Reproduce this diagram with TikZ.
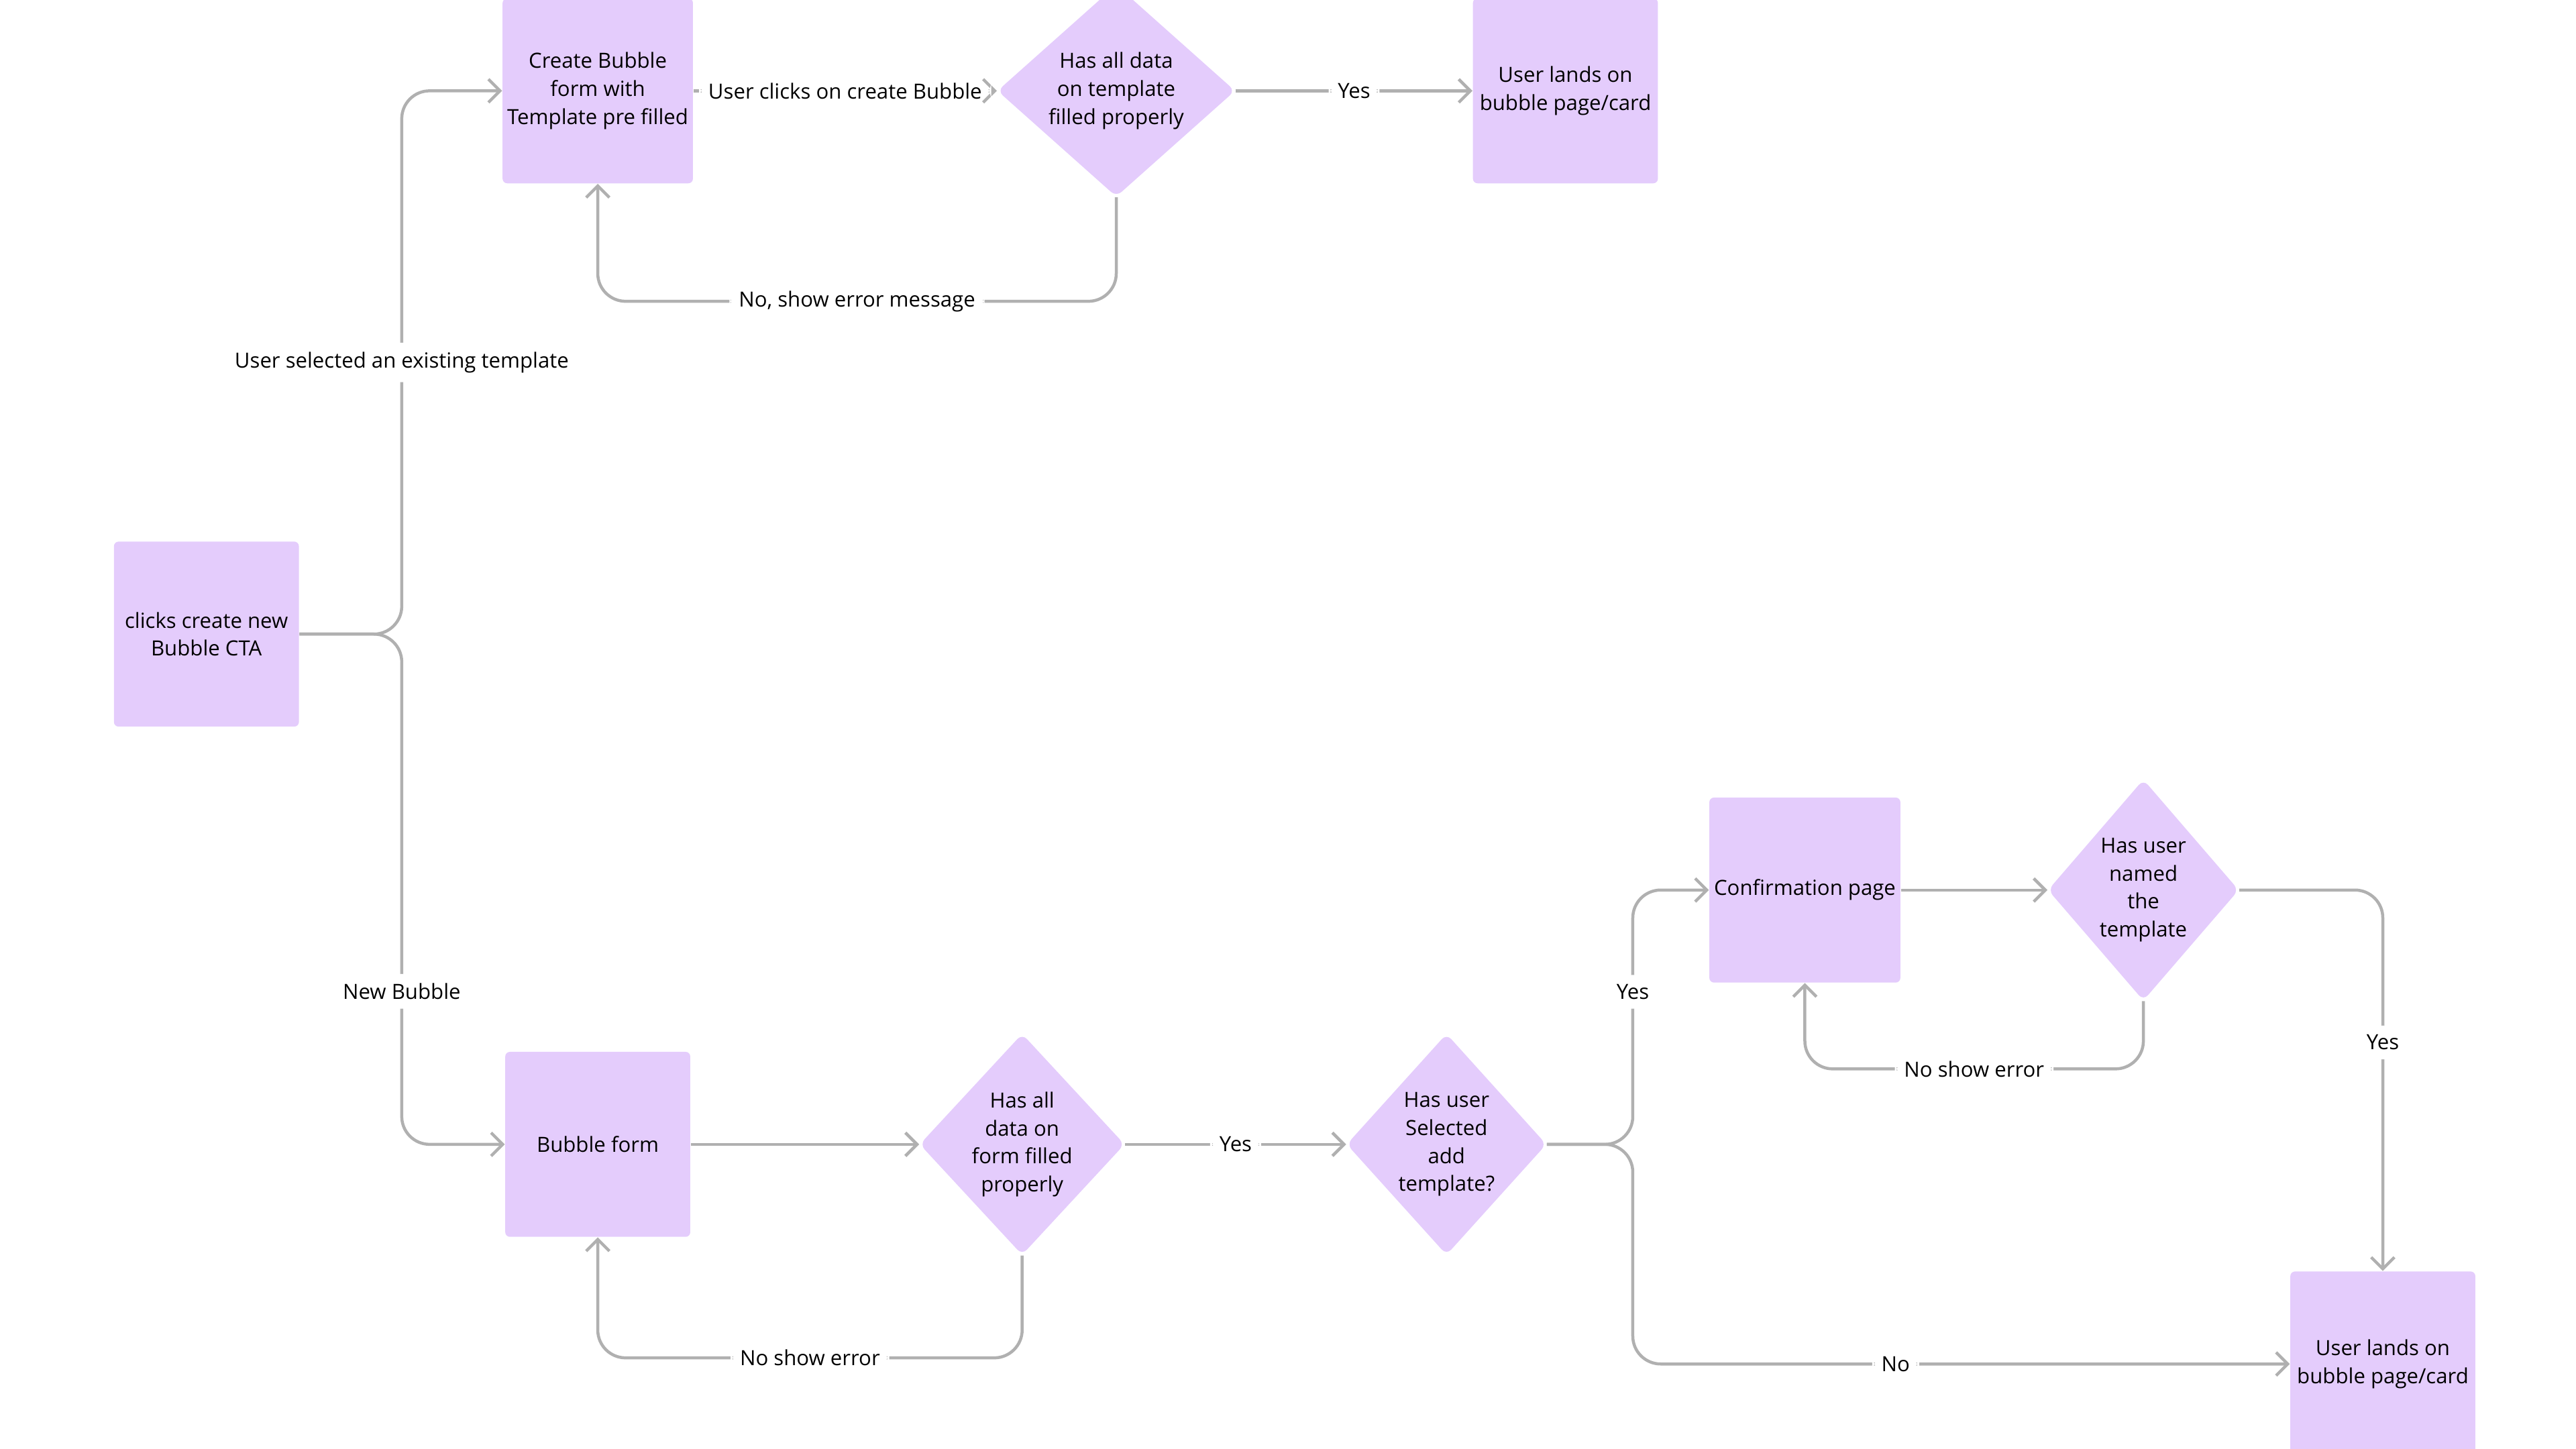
\documentclass[tikz,border=0pt]{standalone}
\usepackage{fontspec}
\setmainfont{Open Sans}
\usetikzlibrary{shapes.geometric,arrows.meta}
\definecolor{boxfill}{HTML}{E4CCFC}
\definecolor{linegray}{HTML}{B0B0B0}
\tikzset{
    % Box and decision styles
    stage/.style={draw=none, fill=boxfill, rounded corners=2pt, minimum width=2.8cm, minimum height=2.8cm,
        align=center, font=\fontsize{9}{12}\selectfont, inner sep=2pt},
    decide/.style={diamond, draw=none, fill=boxfill, rounded corners=3pt, inner sep=0pt,
        align=center, font=\fontsize{9}{12}\selectfont},
    % Connector styles
    flow/.style={draw=linegray, line width=1.3pt, rounded corners=12pt, -{Straight Barb[length=5pt,width=10pt]}},
    flow label/.style={fill=white, font=\fontsize{9}{12}\selectfont, inner sep=4pt},
}
\begin{document}
\begin{tikzpicture}[x=0.025cm, y=-0.025cm]
    \useasboundingbox (0,0) rectangle (1560,877.5);

    % Top branch
    \node[stage] (start) at (125,384) {clicks create new\\Bubble CTA};
    \node[stage] (create) at (362,55) {Create Bubble\\form with\\Template pre filled};
    \node[decide, minimum width=3.6cm, minimum height=2.8cm] (tplcheck) at (676,55) {Has all data\\on template\\filled properly};
    \node[stage] (landtop) at (948,55) {User lands on\\bubble page/card};

    % Bottom branch
    \node[stage] (form) at (362,693) {Bubble form};
    \node[decide, minimum width=2.85cm, minimum height=3.35cm] (formcheck) at (619,693) {Has all\\data on\\form filled\\properly};
    \node[decide, minimum width=2.85cm, minimum height=3.35cm] (addtpl) at (876,693) {Has user\\Selected\\add\\template?};
    \node[stage] (confirm) at (1093,539) {Confirmation page};
    \node[decide, minimum width=2.85cm, minimum height=3.35cm] (named) at (1298,539) {Has user\\named\\the\\template};
    \node[stage] (landbot) at (1443,826) {User lands on\\bubble page/card};

    % Connectors
    \draw[flow] (start.east) -- ++(62,0) |- node[flow label, pos=0.25] {User selected an existing template} (create.west);
    \draw[flow] (start.east) -- ++(62,0) |- node[flow label, pos=0.35] {New Bubble} (form.west);
    \draw[flow] (create) -- node[flow label] {User clicks on create Bubble} (tplcheck);
    \draw[flow] (tplcheck) -- node[flow label] {Yes} (landtop);
    \draw[flow] (tplcheck.south) -- ++(0,63) -| node[flow label, pos=0.25] {No, show error message} (create.south);

    \draw[flow] (form) -- (formcheck);
    \draw[flow] (formcheck) -- node[flow label] {Yes} (addtpl);
    \draw[flow] (formcheck.south) -- ++(0,62) -| node[flow label, pos=0.25] {No show error} (form.south);
    \draw[flow] (addtpl.east) -- ++(52,0) |- node[flow label, pos=0.3] {Yes} (confirm.west);
    \draw[flow] (addtpl.east) -- ++(52,0) |- node[flow label, pos=0.7] {No} (landbot.west);
    \draw[flow] (confirm) -- (named);
    \draw[flow] (named.south) -- ++(0,41) -| node[flow label, pos=0.25] {No show error} (confirm.south);
    \draw[flow] (named.east) -| node[flow label, pos=0.7] {Yes} (landbot.north);
\end{tikzpicture}
\end{document}
